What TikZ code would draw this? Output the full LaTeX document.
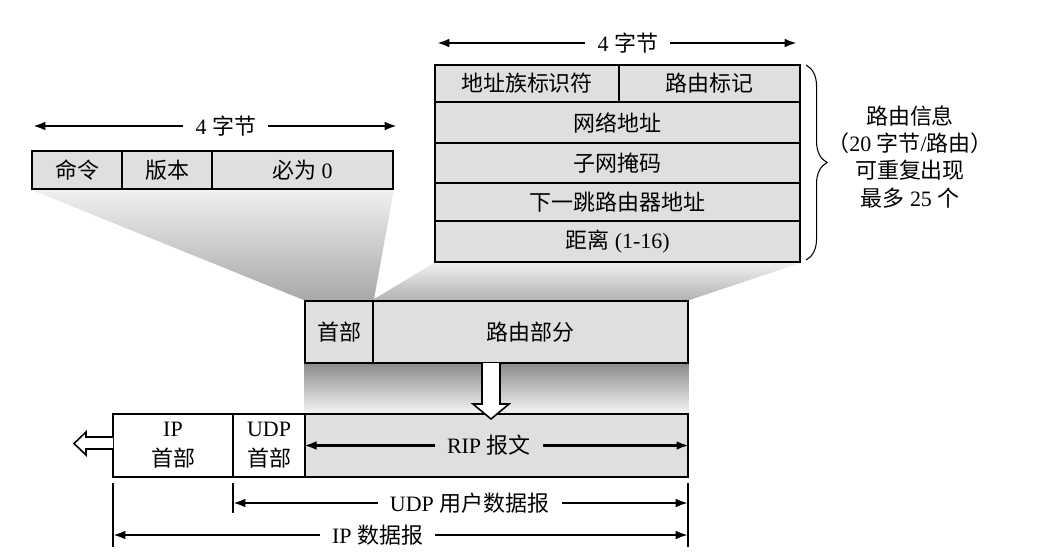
\documentclass[tikz,border=0pt]{standalone}
\usepackage{fontspec}
\setmainfont{Liberation Serif}
\newfontfamily\zh{Noto Sans CJK SC}
\usepackage{tikz}
\usetikzlibrary{positioning, arrows.meta, fit, backgrounds, decorations.pathreplacing}

\begin{document}
\begin{tikzpicture}[x=0.02cm, y=-0.02cm,
  font=\fontsize{12.5pt}{15.4pt}\selectfont,
  cell/.style={draw, line width=0.9pt, fill=gray!25, inner sep=0pt},
  hcell/.style={cell, fill=white},
  two/.style={align=center, font=\fontsize{12.5pt}{17pt}\selectfont},
  dim/.style={line width=1.3pt, {Latex[length=7pt,width=5pt]}-{Latex[length=7pt,width=5pt]}},
  gap/.style={fill=white, inner xsep=7pt, inner ysep=1pt},
  tick/.style={line width=0.6pt},
  hollow/.style={line width=0.9pt, fill=white}]
\useasboundingbox (0,0) rectangle (1057,555);

% RIP header: 4 bytes
\node[cell, fit={(32,151) (122,189)}, label=center:{\zh 命令}] (cmd) {};
\node[cell, fit={(122,151) (212,189)}, label=center:{\zh 版本}] (ver) {};
\node[cell, fit={(212,151) (393,189)}, label=center:{{\zh 必为} 0}] (zero) {};

% route entry, 20 bytes
\node[cell, fit={(435,65) (619,102)}, label=center:{\zh 地址族标识符}] (afi) {};
\node[cell, fit={(619,65) (800,102)}, label=center:{\zh 路由标记}] (tag) {};
\node[cell, fit={(435,102) (800,143)}, label=center:{\zh 网络地址}] (net) {};
\node[cell, fit={(435,143) (800,183)}, label=center:{\zh 子网掩码}] (mask) {};
\node[cell, fit={(435,183) (800,221)}, label=center:{\zh 下一跳路由器地址}] (hop) {};
\node[cell, fit={(435,221) (800,262)}, label=center:{{\zh 距离} (1-16)}] (dist) {};

% RIP message
\node[cell, fit={(305,301) (373,363)}, label=center:{\zh 首部}] (hdr) {};
\node[cell, fit={(373,301) (688,363)}, label=center:{\zh 路由部分}] (route) {};

% IP datagram
\node[hcell, fit={(113,414) (233,477)}, label={[two]center:IP\\{\zh 首部}}] (iph) {};
\node[hcell, fit={(233,414) (305,477)}, label={[two]center:UDP\\{\zh 首部}}] (udph) {};
\node[cell, fit={(305,414) (688,477)}] (rip) {};

% shaded fans
\begin{scope}[on background layer]
\shade[top color=gray!12, bottom color=black!34] (cmd.south west) -- (zero.south east) -- (hdr.north east) -- (hdr.north west) -- cycle;
\shade[top color=gray!12, bottom color=black!30] (dist.south west) -- (dist.south east) -- (route.north east) -- (route.north west) -- cycle;
\shade[top color=black!45, bottom color=black!4] (hdr.south west) rectangle (rip.north east);
\end{scope}

% hollow arrows
\draw[hollow] (482,363) -- (482,404) -- (473,404) -- (491,419) -- (509,404) -- (500,404) -- (500,363);
\draw[hollow] (113,437) -- (86,437) -- (86,432) -- (74,443.5) -- (86,455) -- (86,449) -- (113,449);

% byte widths
\coordinate (la) at (33,126);
\coordinate (lb) at (397,126);
\coordinate (ra) at (437,43);
\coordinate (rb) at (797,43);
\draw[dim] (la) -- node[gap, pos=0.53] {4 {\zh 字节}} (lb);
\draw[dim] (ra) -- node[gap, pos=0.53] {4 {\zh 字节}} (rb);

% brace
\draw[line width=0.6pt, decorate, decoration={brace, amplitude=12pt}] (806,65) -- (806,260);
\node[align=center] (info) at (910,157) {{\zh 路由信息}\\{\zh （}20 {\zh 字节}/{\zh 路由）}\\{\zh 可重复出现}\\{\zh 最多} 25 {\zh 个}};

% lengths
\draw[dim] (rip.west) -- node[gap, fill=gray!25, pos=0.48] {RIP {\zh 报文}} (rip.east);
\coordinate (t1) at (113,483);
\coordinate (t1b) at (113,547);
\coordinate (t2) at (233,483);
\coordinate (t2b) at (233,513);
\coordinate (t3) at (688,483);
\coordinate (t3b) at (688,547);
\draw[tick] (t1) -- (t1b);
\draw[tick] (t2) -- (t2b);
\draw[tick] (t3) -- (t3b);
\coordinate (ua) at (233,503);
\coordinate (ub) at (688,503);
\coordinate (ia) at (113,535);
\coordinate (ib) at (688,535);
\draw[dim] (ua) -- node[gap, pos=0.52] {UDP {\zh 用户数据报}} (ub);
\draw[dim] (ia) -- node[gap, pos=0.46] {IP {\zh 数据报}} (ib);
\end{tikzpicture}
\end{document}
